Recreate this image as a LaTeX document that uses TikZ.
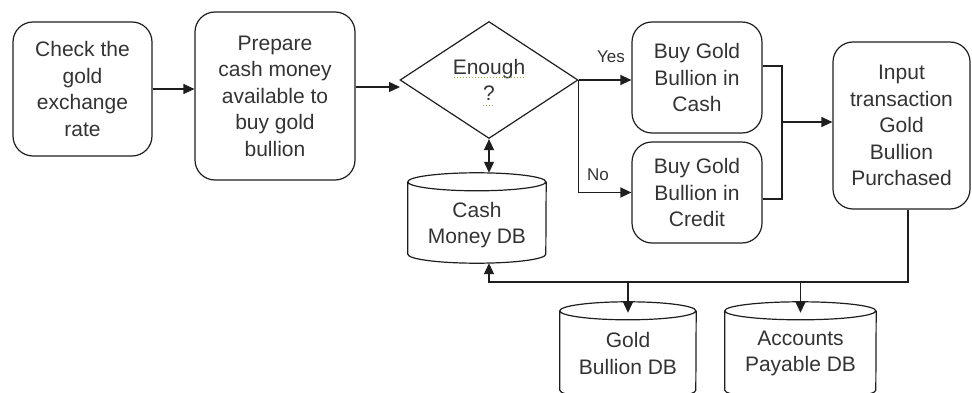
\documentclass[tikz,border=0pt]{standalone}
\usepackage{fontspec}
\setmainfont{Liberation Sans}
\usetikzlibrary{shapes.geometric,arrows.meta}

\definecolor{ink}{HTML}{1E1E1E}
\definecolor{txt}{HTML}{333333}
\definecolor{squiggle}{HTML}{8FAE5A}

% database drum: name, centre x, centre y, width, height, text offset, text
\newcommand\drum[7]{%
  \node[minimum width=#4pt, minimum height=#5pt] (#1) at (#2,#3) {};
  \draw[dbline] ([yshift=-9pt]#1.north west)
      arc[start angle=180, end angle=360, x radius=#4pt/2, y radius=9pt]
      arc[start angle=0, end angle=180, x radius=#4pt/2, y radius=9pt]
      -- ([yshift=9pt]#1.south west)
      arc[start angle=180, end angle=360, x radius=#4pt/2, y radius=9pt]
      -- ([yshift=-9pt]#1.north east);
  \node (#1-text) at ([yshift=-#6pt]#1.center) {#7};
}

\begin{document}
\begin{tikzpicture}[x=1pt,y=-1pt,
  every node/.style={text=txt, font=\fontsize{21}{26.5}\selectfont, align=center, inner sep=0pt},
  procbox/.style={draw=ink, rounded corners=20pt, line width=1.2pt},
  decision/.style={diamond, draw=ink, line width=1.2pt, minimum width=178pt, minimum height=117pt},
  dbline/.style={draw=ink, line width=1.2pt},
  flow/.style={draw=ink, line width=1.3pt},
  arr/.style={flow, -{Triangle[length=11pt,width=10pt]}},
  darr/.style={flow, {Triangle[length=11pt,width=10pt]}-{Triangle[length=11pt,width=10pt]}},
  branch/.style={font=\fontsize{17}{20}\selectfont}
]
\useasboundingbox (0,0) rectangle (972,393);

% process steps
\node[procbox, minimum width=139pt, minimum height=134pt] (rate) at (82.5,89) {Check the\\gold\\exchange\\rate};
\node[procbox, minimum width=160pt, minimum height=168pt] (prep) at (275,96) {Prepare\\cash money\\available to\\buy gold\\bullion};
\node[decision] (enough) at (489,80) {Enough\\?};
\node[procbox, minimum width=130pt, minimum height=111pt] (cashbuy) at (697,77.5) {Buy Gold\\Bullion in\\Cash};
\node[procbox, minimum width=130pt, minimum height=101pt] (creditbuy) at (697,192.5) {Buy Gold\\Bullion in\\Credit};
\node[procbox, minimum width=137pt, minimum height=167pt] (input) at (901.5,125.5) {Input\\transaction\\Gold\\Bullion\\Purchased};

% data stores
\drum{cash}{477}{218}{138}{90}{7}{Cash\\Money DB}
\drum{gold}{628}{350.5}{136}{97}{3}{Gold\\Bullion DB}
\drum{payable}{800.5}{350.5}{151}{97}{3}{Accounts\\Payable DB}

% spell-check marks under the decision text
\draw[squiggle, dotted, line width=1pt] (454,78) -- (524,78);
\draw[squiggle, dotted, line width=1pt] (483,106) -- (494,106);

% branch labels
\node[branch] (yes) at (611,57) {Yes};
\node[branch] (no) at (598,175) {No};

% flow
\coordinate (into) at (400,87);
\coordinate (merge) at (782,122);
\coordinate (drop) at (908,282);

\draw[arr] (rate.east) -- (rate.east -| prep.west);
\draw[arr] (prep.east |- into) -- (into);
\draw[arr] (enough.east) -- (enough.east -| cashbuy.west);
\draw[arr] (enough.east) |- (creditbuy.west);
\draw[darr] (enough.south) -- (enough.south |- cash.north);
\draw[flow] ([yshift=11.5pt]cashbuy.east) -| (merge) |- ([yshift=-6.5pt]creditbuy.east);
\draw[arr] (merge) -- (merge -| input.west);
\draw[arr] (drop |- input.south) -- (drop) -- (drop -| enough.south) -- (enough.south |- cash.south);
\draw[arr] (gold.north |- drop) -- ([yshift=-11pt]gold.north);
\draw[arr] (payable.north |- drop) -- ([yshift=-11pt]payable.north);
\end{tikzpicture}
\end{document}
